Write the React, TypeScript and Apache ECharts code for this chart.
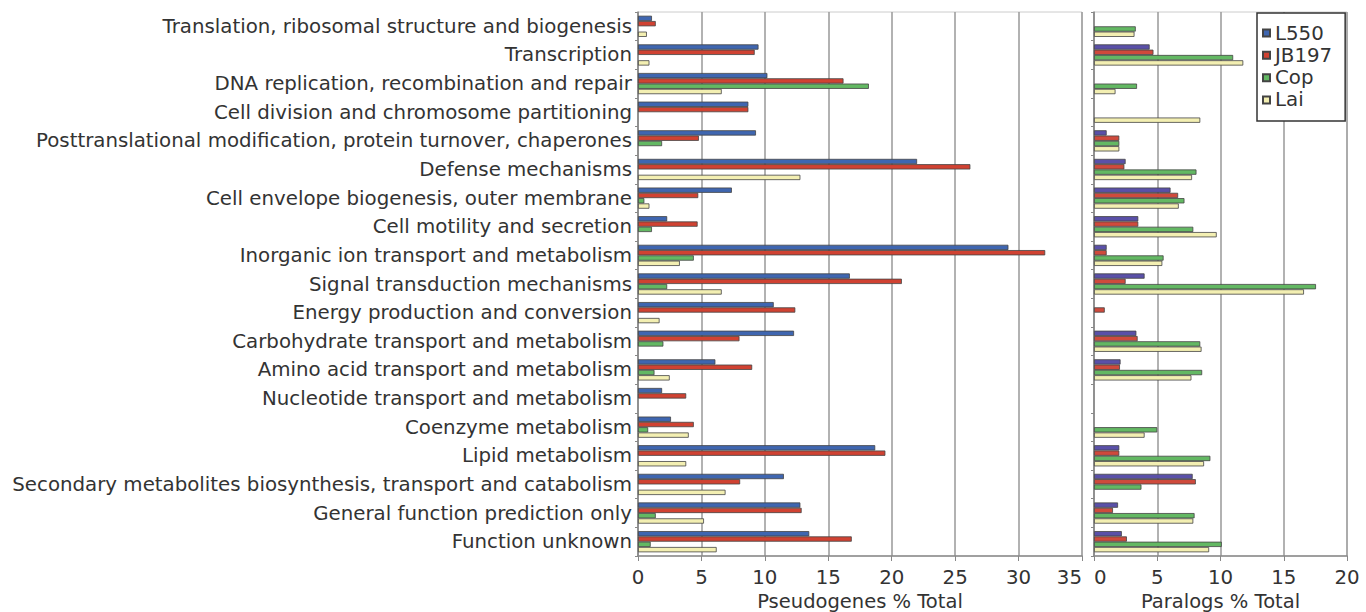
import React, { useEffect, useRef } from "react";
import * as echarts from "echarts";

const categories = [
  "Translation, ribosomal structure and biogenesis",
  "Transcription",
  "DNA replication, recombination and repair",
  "Cell division and chromosome partitioning",
  "Posttranslational modification, protein turnover, chaperones",
  "Defense mechanisms",
  "Cell envelope biogenesis, outer membrane",
  "Cell motility and secretion",
  "Inorganic ion transport and metabolism",
  "Signal transduction mechanisms",
  "Energy production and conversion",
  "Carbohydrate transport and metabolism",
  "Amino acid transport and metabolism",
  "Nucleotide transport and metabolism",
  "Coenzyme metabolism",
  "Lipid metabolism",
  "Secondary metabolites biosynthesis, transport and catabolism",
  "General function prediction only",
  "Function unknown",
];

const seriesNames = ["L550", "JB197", "Cop", "Lai"];

// Pseudogenes % Total
const pseudoL550 = [1.1, 9.5, 10.2, 8.7, 9.3, 22.0, 7.4, 2.3, 29.2, 16.7, 10.7, 12.3, 6.1, 1.9, 2.6, 18.7, 11.5, 12.8, 13.5];
const pseudoJB197 = [1.4, 9.2, 16.2, 8.7, 4.8, 26.2, 4.75, 4.7, 32.1, 20.8, 12.4, 8.0, 9.0, 3.8, 4.4, 19.5, 8.05, 12.9, 16.85];
const pseudoCop = [null, null, 18.2, null, 1.9, null, 0.5, 1.1, 4.4, 2.3, null, 2.0, 1.3, null, 0.8, null, null, 1.4, 1.0];
const pseudoLai = [0.7, 0.9, 6.6, null, null, 12.8, 0.9, null, 3.3, 6.6, 1.7, null, 2.5, null, 4.0, 3.8, 6.9, 5.2, 6.2];

// Paralogs % Total
const paraL550 = [null, 4.4, null, null, 1.0, 2.5, 6.05, 3.5, 1.0, 4.0, null, 3.35, 2.1, null, null, 2.0, 7.8, 1.9, 2.2];
const paraJB197 = [null, 4.7, null, null, 2.0, 2.4, 6.65, 3.5, 1.0, 2.5, 0.85, 3.45, 2.05, null, null, 2.0, 8.05, 1.5, 2.6];
const paraCop = [3.3, 11.0, 3.4, null, 2.0, 8.1, 7.15, 7.85, 5.5, 17.55, null, 8.4, 8.55, null, 5.0, 9.2, 3.75, 7.95, 10.1];
const paraLai = [3.2, 11.8, 1.7, 8.4, 2.0, 7.75, 6.7, 9.7, 5.4, 16.6, null, 8.5, 7.7, null, 4.0, 8.7, null, 7.85, 9.1];

const leftColors = ["#3f66b0", "#d04232", "#63b863", "#f3efb2"];
const rightColors = ["#5a50a8", "#cf4a3c", "#63b863", "#f3efb2"];

const FONT = "DejaVu Sans";

export default function App() {
  const ref = useRef<HTMLDivElement>(null);

  useEffect(() => {
    if (!ref.current) return;
    const chart = echarts.init(ref.current, undefined, { renderer: "svg" });

    const leftData = [pseudoL550, pseudoJB197, pseudoCop, pseudoLai];
    const rightData = [paraL550, paraJB197, paraCop, paraLai];

    const mkSeries = (data: (number | null)[], i: number, panel: number) => ({
      type: "bar",
      name: seriesNames[i],
      xAxisIndex: panel,
      yAxisIndex: panel,
      data,
      barCategoryGap: "26%",
      barGap: "0%",
      itemStyle: {
        color: panel === 0 ? leftColors[i] : rightColors[i],
        borderColor: "#444",
        borderWidth: 0.8,
      },
    });

    const xAxisCommon = {
      type: "value",
      min: 0,
      interval: 5,
      nameLocation: "middle",
      nameGap: 30,
      nameTextStyle: { fontFamily: FONT, fontSize: 19.5, color: "#333", lineHeight: 20 },
      axisLine: { show: true, lineStyle: { color: "#888", width: 1.5 } },
      axisTick: { show: true, length: 5, lineStyle: { color: "#888" } },
      splitLine: { show: true, lineStyle: { color: "#999", width: 1.5 } },
    };

    const yAxisCommon = {
      type: "category",
      data: categories,
      inverse: true,
      axisLine: { show: true, lineStyle: { color: "#888", width: 1.5 } },
      axisTick: { show: true, length: 3, lineStyle: { color: "#888" } },
      splitLine: { show: false },
    };

    chart.setOption({
      animation: false,
      backgroundColor: "#ffffff",
      grid: [
        {
          left: 638, top: 12, width: 444, height: 544,
          outerBoundsMode: "none", containLabel: false,
          show: true, borderColor: "#ccc", borderWidth: 1,
        },
        {
          left: 1094, top: 12, width: 253, height: 544,
          outerBoundsMode: "none", containLabel: false,
          show: true, borderColor: "#ccc", borderWidth: 1,
        },
      ],
      xAxis: [
        {
          ...xAxisCommon, gridIndex: 0, max: 35, name: "Pseudogenes % Total",
          axisLabel: { fontFamily: FONT, fontSize: 19.8, color: "#333", margin: 11, alignMaxLabel: "right" },
        },
        {
          ...xAxisCommon, gridIndex: 1, max: 20, name: "Paralogs % Total",
          axisLabel: { fontFamily: FONT, fontSize: 19.8, color: "#333", margin: 11, alignMinLabel: "left" },
        },
      ],
      yAxis: [
        {
          ...yAxisCommon,
          gridIndex: 0,
          axisLabel: { fontFamily: FONT, fontSize: 19.8, color: "#333", margin: 6, interval: 0 },
        },
        { ...yAxisCommon, gridIndex: 1, axisLabel: { show: false } },
      ],
      legend: {
        data: seriesNames,
        orient: "vertical",
        left: 1257,
        top: 13,
        padding: [10, 13, 11, 5],
        itemWidth: 7,
        itemHeight: 7,
        itemGap: 2.33,
        itemTextGap: 9,
        icon: "rect",
        backgroundColor: "#ffffff",
        borderColor: "#333",
        borderWidth: 1.5,
        borderRadius: 0,
        textStyle: { fontFamily: FONT, fontSize: 19.8, color: "#333", lineHeight: 20 },
      },
      series: [
        ...leftData.map((d, i) => mkSeries(d, i, 0)),
        ...rightData.map((d, i) => mkSeries(d, i, 1)),
      ],
    });

    return () => chart.dispose();
  }, []);

  return (
    <div
      ref={ref}
      style={{ position: "fixed", left: 0, top: 0, width: 1366, height: 612 }}
    />
  );
}
